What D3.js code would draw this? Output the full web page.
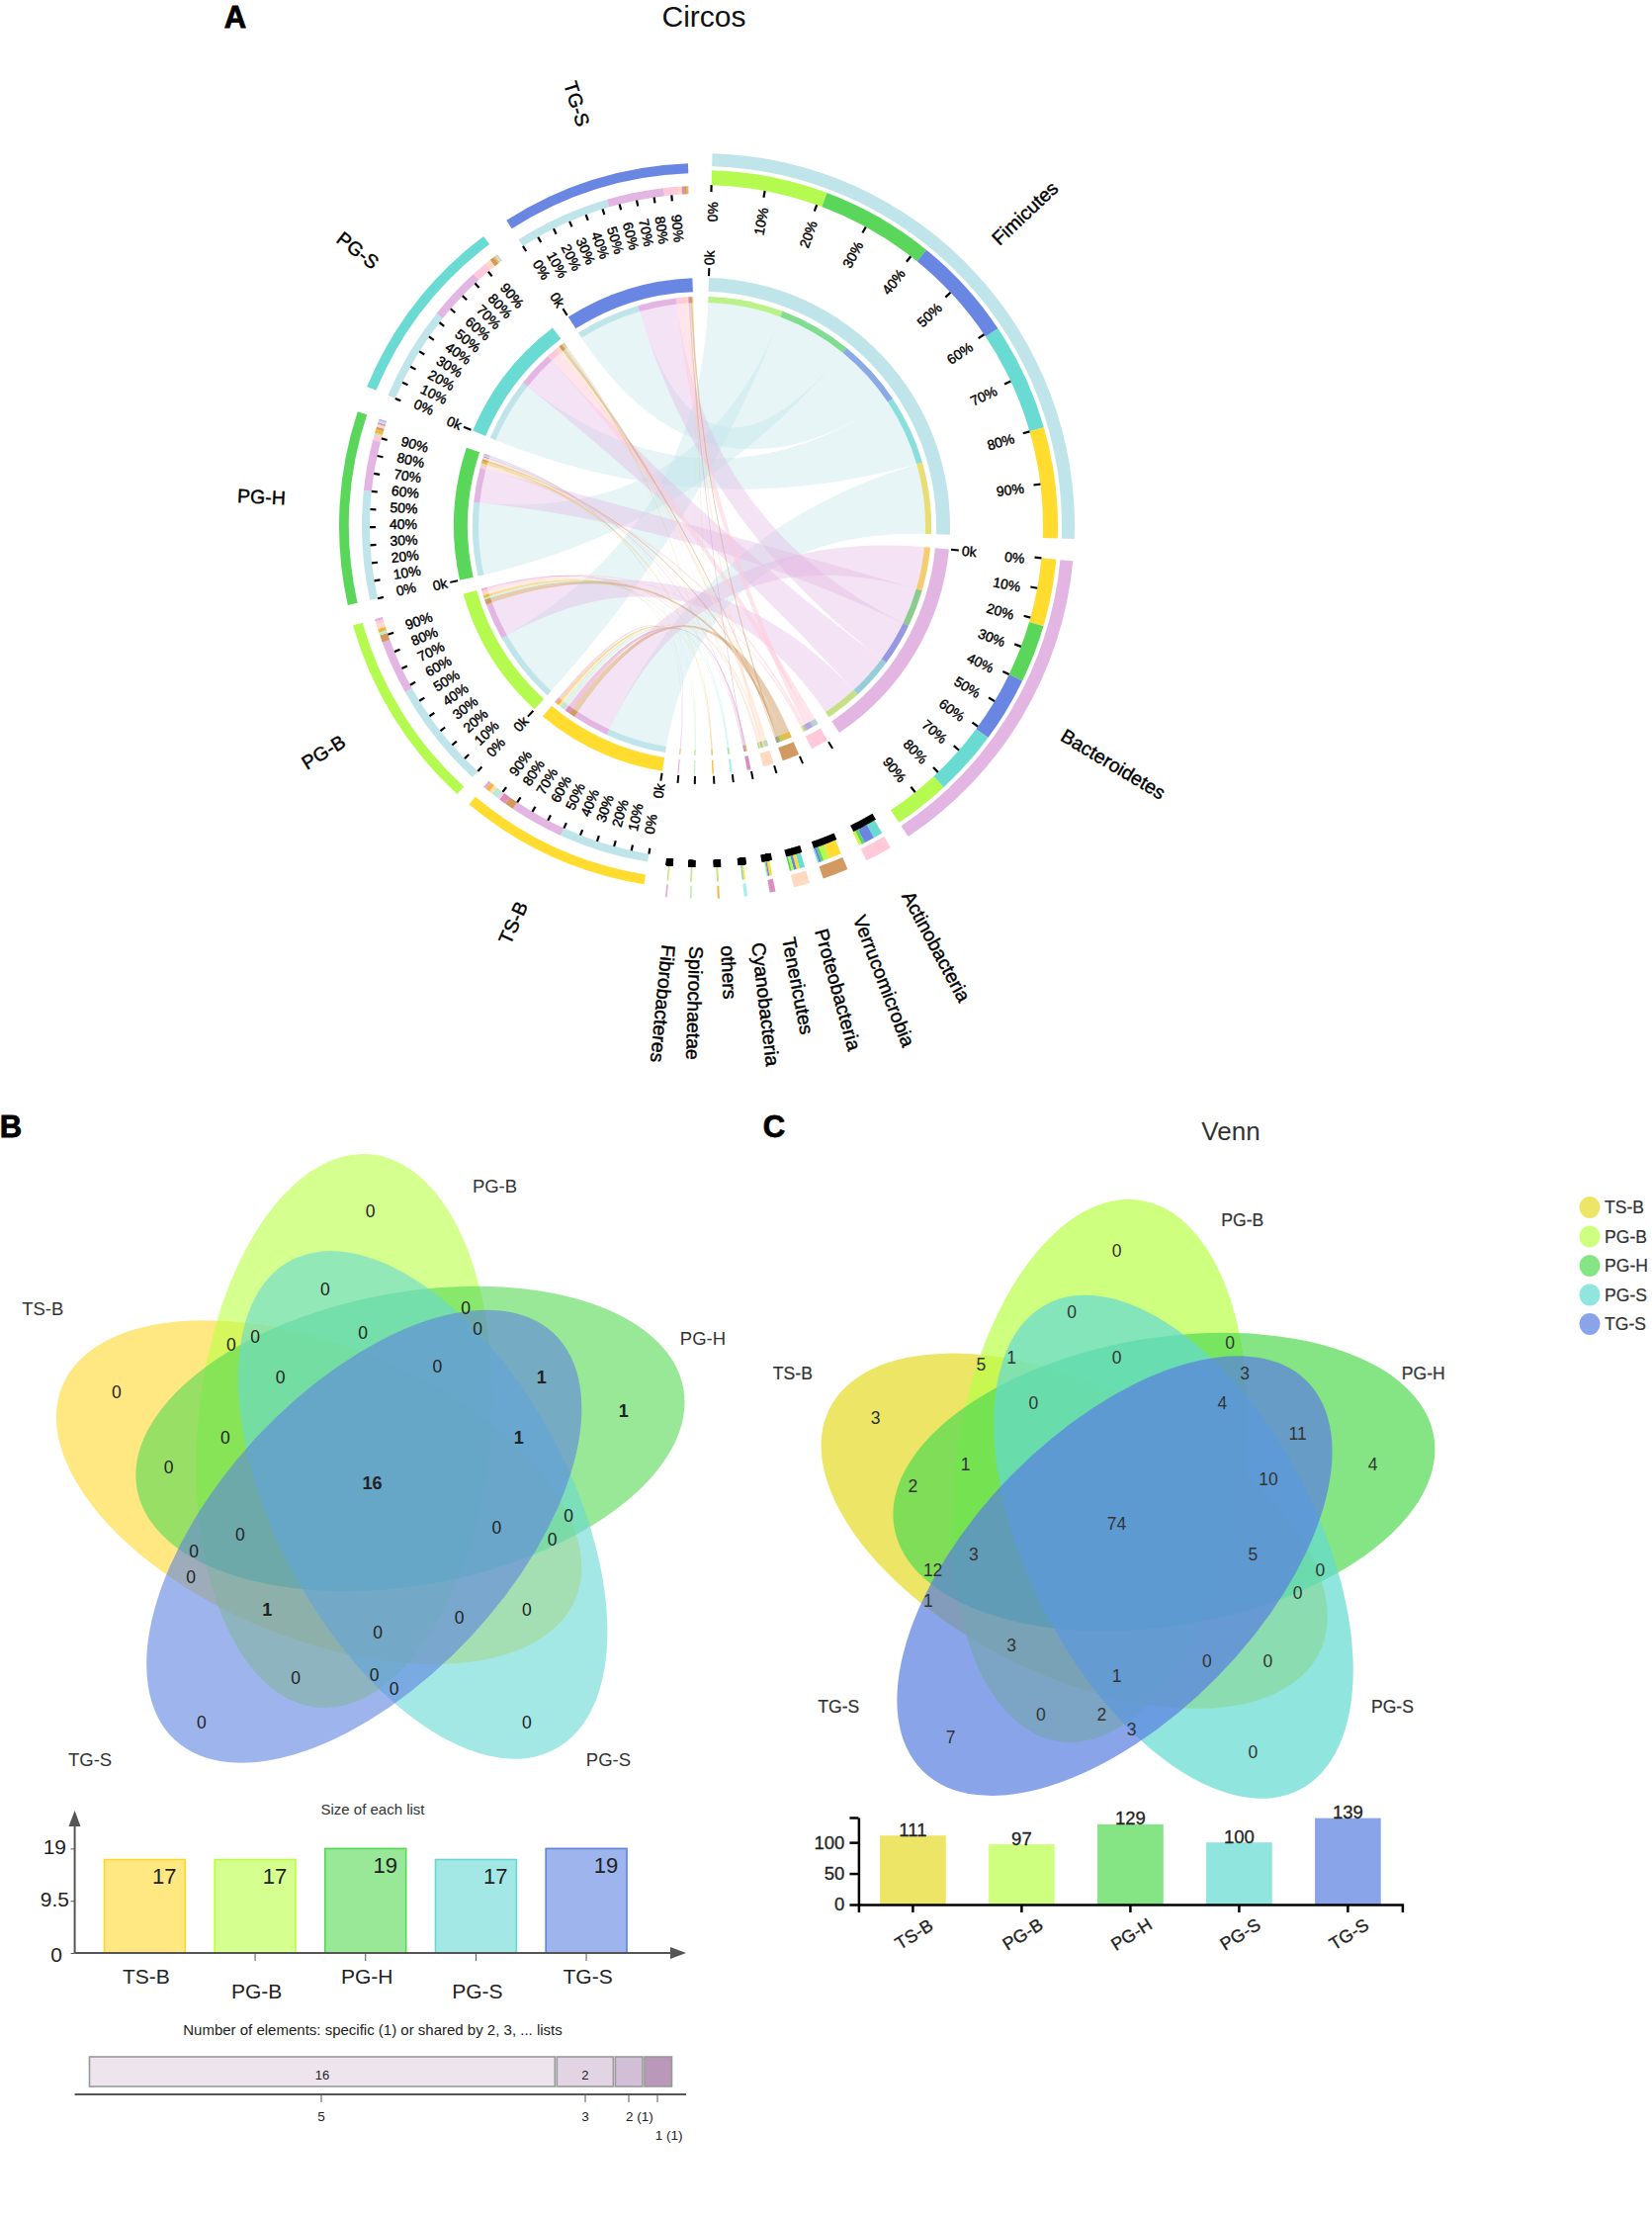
<!DOCTYPE html>
<html><head><meta charset="utf-8">
<script src="https://cdn.jsdelivr.net/npm/d3@7"></script>
<style>body{margin:0;background:#fff}svg{display:block}text{font-family:"Liberation Sans",Arial,sans-serif}</style>
</head><body><div id="c"></div>
<script>
// ---------- DATA ----------
const hosts = ['TS-B','PG-B','PG-H','PG-S','TG-S'];
const hostColors = ['#FFDC2E','#B5FA4E','#5AD75A','#6ADBD3','#6A86E3'];
const phyla = ['Fimicutes','Bacteroidetes','Actinobacteria','Verrucomicrobia','Proteobacteria','Tenericutes','Cyanobacteria','others','Spirochaetae','Fibrobacteres'];
const phylumColors = ['#BFE5EB','#E3B5E3','#FFC9D9','#D29A60','#FFD9C0','#DB8FBF','#A8EDE8','#F5B73A','#B8EDB8','#DDA8E3'];
const phylumTotals = [295.2,166.6,13.7,13.1,8.2,2.9,1.6,1,0.8,0.8];
const hostTotals = [100.4,103.5,101.2,99.3,99.3];
// share (%) of each phylum within a host, in the order stacked on that host
const hostOrder = [
  ['Fimicutes','Bacteroidetes','Verrucomicrobia','Tenericutes','Actinobacteria','Cyanobacteria','Spirochaetae','Proteobacteria','others','Fibrobacteres'],
  ['Fimicutes','Bacteroidetes','Verrucomicrobia','Spirochaetae','Cyanobacteria','others','Proteobacteria','Actinobacteria','Tenericutes','Fibrobacteres'],
  ['Fimicutes','Bacteroidetes','Actinobacteria','Spirochaetae','others','Verrucomicrobia','Proteobacteria','Tenericutes','Cyanobacteria','Fibrobacteres'],
  ['Fimicutes','Bacteroidetes','Actinobacteria','Proteobacteria','Verrucomicrobia','others','Spirochaetae','Cyanobacteria','Tenericutes','Fibrobacteres'],
  ['Fimicutes','Bacteroidetes','Actinobacteria','Proteobacteria','Tenericutes','Verrucomicrobia','others','Cyanobacteria','Spirochaetae','Fibrobacteres']
];
const hostShares = [
  [50,30,5,4,1.5,2,1.5,2,2.5,1.5],
  [58,29,4,1,0.5,2,2.5,2,0.5,0.5],
  [60,28,3,1,2,1.5,1.5,1,1,1],
  [53,30,9,3,2.5,1,0.5,0.5,0.3,0.2],
  [54,32,8,2,1.3,1.5,0.7,0.2,0.2,0.1]
];
// share (%) of each host within a phylum, in the order stacked on that phylum
const phylumOrder = [
  ['PG-B','PG-H','TG-S','PG-S','TS-B'],
  ['TS-B','PG-H','TG-S','PG-S','PG-B'],
  ['PG-S','TG-S','PG-H','PG-B','TS-B'],
  ['TS-B','PG-B','PG-H','TG-S','PG-S'],
  ['PG-S','TS-B','TG-S','PG-B','PG-H'],
  ['TS-B','TG-S','PG-H','PG-B','PG-S'],
  ['TS-B','PG-B','PG-H','TG-S','PG-S'],
  ['TS-B','PG-B','PG-H','PG-S','TG-S'],
  ['TS-B','PG-B','PG-H','PG-S','TG-S'],
  ['TS-B','PG-B','PG-H','PG-S','TG-S']
];
const phylumShares = [
  [21,20.5,19,19.5,20],
  [21.5,18.5,21,21,18],
  [36,40,13,7,4],
  [50,25,10,10,5],
  [35,20,18,15,12],
  [50,25,15,7,3],
  [40,25,15,15,5],
  [50,20,15,10,5],
  [40,25,15,10,10],
  [50,20,15,10,5]
];
const tickPercents = [0,10,20,30,40,50,60,70,80,90];

const vennNames = ['TS-B','PG-B','PG-H','PG-S','TG-S'];
const vennBValues = [0,0,0,0,0,0,0,0,0,1,1,1,0,0,0,16,0,0,0,0,0,0,1,0,0,0,0,0,0,0,0];
const vennCValues = [0,0,0,3,5,1,0,0,4,3,11,4,1,10,2,74,3,5,12,0,0,1,3,0,0,1,0,2,3,7,0];
const listSizes = [17,17,19,17,19];
const sharedCounts = [16,2,1,1];
const sharedLabels = ['5','3','2 (1)','1 (1)'];
const sharedInside = ['16','2','',''];
const sharedColors = ['#EEE4EE','#E2D4E2','#D2BED6','#B998B9'];
const cSizes = [111,97,129,100,139];

// ---------- LAYOUT ----------
const W=1671,H=2242;
const svg=d3.select('#c').append('svg').attr('width',W).attr('height',H).attr('viewBox',`0 0 ${W} ${H}`);
svg.append('rect').attr('width',W).attr('height',H).attr('fill','#fff');
const rad=d=>d*Math.PI/180;

function txt(g,x,y,s,size,o={}){
  return g.append('text').attr('x',x).attr('y',y).attr('dy','.35em').attr('text-anchor',o.anchor||'middle')
    .attr('font-size',size).attr('font-weight',o.weight||'normal').attr('fill',o.fill||'#222')
    .attr('stroke',o.stroke||'none').attr('stroke-width',o.sw||0).text(s);
}
txt(svg,238,17,'A',31,{weight:'bold',fill:'#000',stroke:'#000',sw:.8});
txt(svg,11,1139,'B',31,{weight:'bold',fill:'#000',stroke:'#000',sw:.8});
txt(svg,783,1139,'C',31,{weight:'bold',fill:'#000',stroke:'#000',sw:.8});
txt(svg,712,16,'Circos',30,{fill:'#111'});
txt(svg,1245,1144,'Venn',26,{fill:'#333'});

// ---------- CIRCOS ----------
const circos=svg.append('g').attr('transform','translate(710,532)');
const startDeg=1.6;
const sectorGaps=[3.4,3.2,3.2,2.2,2.9,3.5,3.8,4,3.55,3.55,2.5,3.3,4.2,4.4,3.8];
const allTotals=[...phylumTotals,...hostTotals];
const unitToDeg=d3.scaleLinear().domain([0,d3.sum(allTotals)]).range([0,360-d3.sum(sectorGaps)]);
let cur=startDeg;
const sectors=[...phyla.map((n,i)=>({name:n,color:phylumColors[i],total:phylumTotals[i],isHost:false,
    order:phylumOrder[i],shares:phylumShares[i],lookup:hostColors,names:hosts})),
  ...hosts.map((n,i)=>({name:n,color:hostColors[i],total:hostTotals[i],isHost:true,
    order:hostOrder[i],shares:hostShares[i],lookup:phylumColors,names:phyla}))];
sectors.forEach((s,i)=>{
  s.a0=cur; s.a1=cur+unitToDeg(s.total); cur=s.a1+sectorGaps[i];
  s.pos=d3.scaleLinear().domain([0,100]).range([s.a0,s.a1]);
  let acc=0; s.slots={};
  s.order.forEach((n,j)=>{s.slots[n]={from:acc,to:acc+s.shares[j],color:s.lookup[s.names.indexOf(n)]};acc+=s.shares[j];});
});
const arc=(r0,r1,a0,a1)=>d3.arc()({innerRadius:r0,outerRadius:r1,startAngle:rad(a0),endAngle:rad(a1)});
const R={inBand:[237,251],inStack:[226,232],ribbon:232};
const gArcs=circos.append('g'), gRib=circos.append('g'), gTicks=circos.append('g');

sectors.forEach(s=>{
  const out=s.isHost?[357,367]:[364,377], st=s.isHost?[336,344]:[345,360], tk=s.isHost?[330,336]:[338,345];
  gArcs.append('path').attr('d',arc(out[0],out[1],s.a0,s.a1)).attr('fill',s.color);
  gArcs.append('path').attr('d',arc(R.inBand[0],R.inBand[1],s.a0,s.a1)).attr('fill',s.color);
  Object.values(s.slots).forEach(v=>{
    gArcs.append('path').attr('d',arc(st[0],st[1],s.pos(v.from),s.pos(v.to))).attr('fill',v.color);
    gArcs.append('path').attr('d',arc(R.inStack[0],R.inStack[1],s.pos(v.from),s.pos(v.to))).attr('fill',v.color);
  });
  const sw=s.total<5?6:(s.total<20?3.2:2.2);
  tickPercents.forEach(p=>{
    const a=s.pos(p);
    gTicks.append('line').attr('transform',`rotate(${a-90})`).attr('x1',tk[0]).attr('x2',tk[1]).attr('stroke','#000').attr('stroke-width',sw);
    if(s.total>=50){
      const outward=a<188;
      const g=gTicks.append('g').attr('transform',`rotate(${a-90}) translate(${s.isHost?316:328},${s.isHost?3:2})${outward?'':' rotate(180)'}`);
      txt(g,0,0,p+'%',14,{anchor:outward?'end':'start',fill:'#000',stroke:'#000',sw:.4});
    }
  });
  const a=s.a0;
  gTicks.append('line').attr('transform',`rotate(${a-90})`).attr('x1',253).attr('x2',261).attr('stroke','#000').attr('stroke-width',2);
  if(s.total>=50){
    const outward=a<188;
    const g=gTicks.append('g').attr('transform',`rotate(${a-90}) translate(264,0)${outward?'':' rotate(180)'}`);
    txt(g,0,0,'0k',14,{anchor:outward?'start':'end',fill:'#000',stroke:'#000',sw:.4});
  }
  const m=(s.a0+s.a1)/2, outward=m<188;
  const labR=s.isHost?422:(s.name==='Fimicutes'?413:(s.name==='Bacteroidetes'?421:425));
  const g=gTicks.append('g').attr('transform',`rotate(${m-90}) translate(${labR},${outward?-7:7})${outward?'':' rotate(180)'}`);
  txt(g,0,0,s.name,19.5,{anchor:outward?'start':'end',fill:'#000',stroke:'#000',sw:.4});
});
const ribbon=d3.ribbon().radius(R.ribbon);
phyla.forEach((pn,pi)=>{
  const ps=sectors[pi];
  hosts.forEach((hn,hi)=>{
    const hs=sectors[phyla.length+hi];
    const a=ps.slots[hn], b=hs.slots[pn];
    gRib.append('path').attr('d',ribbon({
      source:{startAngle:rad(ps.pos(a.from)),endAngle:rad(ps.pos(a.to))},
      target:{startAngle:rad(hs.pos(b.from)),endAngle:rad(hs.pos(b.to))}
    })).attr('fill',phylumColors[pi]).attr('fill-opacity',pi<2?.38:.5);
  });
});

// ---------- VENN ----------
function venn(cx,cy,sc,turns,tilts,shifts,colors,op){
  const g=svg.append('g').attr('transform',`translate(${cx},${cy}) scale(${sc})`);
  vennNames.forEach((n,i)=>g.append('ellipse').attr('rx',148).attr('ry',281)
    .attr('transform',`rotate(${turns[i]}) translate(-28,${-50+shifts[i]}) rotate(${tilts[i]})`).attr('fill',colors[i]).attr('fill-opacity',op));
}
const vennColB=['#FFD82F','#B9FF43','#53D853','#67D8D4','#5D82DF'];
const vennColC=['#E4DA24','#BAFF48','#51DA51','#63DAD1','#597EE1'];
venn(376,1497,1,[288,0,72,145,217],[4.5,5.5,7.5,6.5,6],[3,0,0,0,0],vennColB,.6);
venn(1137,1538,.985,[291,3,75,147,219],[5.5,5.5,5.5,5.5,5.5],[6,0,0,0,0],vennColC,.7);

const bX=c=>c/2.01, bY=c=>1100+c/2.178, cX=c=>760+c/1.721, cY=c=>1100+c/2.063;
const spotsB=[[753,273],[661,445],[947,485],[971,532],[738,539],[519,548],[470,565],[570,637],[889,614],[1101,637],[1268,711],[1055,770],[237,670],[458,770],[343,836],[757,870],[1156,942],[1123,995],[1010,968],[488,985],[394,1021],[388,1078],[543,1150],[1071,1150],[934,1167],[768,1200],[601,1299],[761,1293],[801,1323],[410,1398],[1071,1398]];
vennBValues.forEach((v,i)=>txt(svg,bX(spotsB[i][0]),bY(spotsB[i][1]),v,v>0?18:17.5,{weight:v>0?'bold':'normal',fill:'#222'}));
const nameSpotsB=[[87,487],[1006,216],[1429,553],[1237,1480],[183,1480]];
vennNames.forEach((n,i)=>txt(svg,bX(nameSpotsB[i][0]),bY(nameSpotsB[i][1]),n,18.5,{fill:'#333'}));

const spotsC=[[636,341],[558,468],[833,531],[859,595],[400,578],[453,563],[636,563],[491,657],[820,657],[216,689],[951,721],[1082,785],[373,785],[900,816],[281,832],[636,910],[387,974],[873,974],[316,1006],[990,1006],[951,1053],[308,1070],[453,1164],[793,1197],[899,1197],[636,1228],[504,1307],[610,1307],[662,1339],[347,1355],[873,1386]];
vennCValues.forEach((v,i)=>txt(svg,cX(spotsC[i][0]),cY(spotsC[i][1]),v,17.5,{fill:'#333'}));
const nameSpotsC=[[72,595],[855,277],[1170,595],[1116,1292],[152,1292]];
vennNames.forEach((n,i)=>txt(svg,cX(nameSpotsC[i][0]),cY(nameSpotsC[i][1]),n,17.6,{fill:'#333',stroke:'#333',sw:.2}));

// legend
vennNames.forEach((n,i)=>{
  const y=1221+i*29.5;
  svg.append('ellipse').attr('cx',1608).attr('cy',y).attr('rx',10.5).attr('ry',11).attr('fill',vennColC[i]).attr('fill-opacity',.7);
  txt(svg,1623,y,n,17.6,{anchor:'start',fill:'#333',stroke:'#333',sw:.2});
});

// ---------- B: size of each list ----------
const gray='#555', baseB=1975;
txt(svg,377,1829.5,'Size of each list',15,{fill:'#333'});
const bxScale=d3.scaleBand().domain(vennNames).range([105.5,634]).paddingInner(.267);
const byScale=d3.scaleLinear().domain([0,19]).range([baseB,baseB-105.6]);
vennNames.forEach((n,i)=>{
  const x=bxScale(n),w=bxScale.bandwidth(),y=byScale(listSizes[i]);
  svg.append('rect').attr('x',x).attr('y',y).attr('width',w).attr('height',baseB-y).attr('fill',vennColB[i]).attr('fill-opacity',.6).attr('stroke',vennColB[i]).attr('stroke-width',1.6);
  txt(svg,x+w-21,y+16.5,listSizes[i],22,{fill:'#222'});
  if(i>0) svg.append('line').attr('x1',x+w/2).attr('x2',x+w/2).attr('y1',baseB+1).attr('y2',baseB+8).attr('stroke',gray).attr('stroke-width',1);
  txt(svg,x+w/2+1.5,i%2?2014:1999,n,21,{fill:'#222'});
});
const yAxB=svg.append('g').attr('transform','translate(75.6,0)').call(d3.axisLeft(byScale).tickValues([0,9.5,19]).tickSize(4).tickFormat(''));
yAxB.select('.domain').remove(); yAxB.selectAll('line').attr('stroke',gray);
[0,9.5,19].forEach(v=>txt(svg,v===9.5?70:(v===0?63:67),byScale(v)-(v===0?-1:1)*2,v,21,{anchor:'end',fill:'#222'}));
svg.append('line').attr('x1',75.6).attr('x2',75.6).attr('y1',baseB).attr('y2',1845).attr('stroke',gray).attr('stroke-width',2);
svg.append('line').attr('x1',75.6).attr('x2',682).attr('y1',baseB).attr('y2',baseB).attr('stroke',gray).attr('stroke-width',2.2);
svg.append('path').attr('d','M75.6,1831 L69.5,1847 L81.5,1847 Z').attr('fill',gray);
svg.append('path').attr('d',`M694,${baseB} L678,${baseB-6} L678,${baseB+6} Z`).attr('fill',gray);

// ---------- B: shared counts ----------
txt(svg,377,2053,'Number of elements: specific (1) or shared by 2, 3, ... lists',15,{fill:'#222'});
const unit=d3.scaleLinear().domain([0,d3.sum(sharedCounts)]).range([0,591]);
let sx=90.5;
const tickXs=[325,592,636,665];
sharedCounts.forEach((c,i)=>{
  const w=unit(c);
  svg.append('rect').attr('x',sx).attr('y',2080).attr('width',w-2).attr('height',30).attr('fill',sharedColors[i]).attr('stroke','#999').attr('stroke-width',1.6);
  if(sharedInside[i]) txt(svg,sx+w/2-1,2098,sharedInside[i],13,{fill:'#222'});
  sx+=w;
  svg.append('line').attr('x1',tickXs[i]).attr('x2',tickXs[i]).attr('y1',2118).attr('y2',2126).attr('stroke',gray).attr('stroke-width',1);
  if(i<3) txt(svg,i===2?647:tickXs[i],2140,sharedLabels[i],13.5,{fill:'#222'});
  else txt(svg,676.6,2159,sharedLabels[i],13.5,{fill:'#222'});
});
svg.append('line').attr('x1',75.6).attr('x2',694).attr('y1',2118).attr('y2',2118).attr('stroke',gray).attr('stroke-width',2);

// ---------- C: bars ----------
const cxScale=d3.scaleBand().domain(vennNames).range([868.4,1418.4]).paddingInner(.394).paddingOuter(.197);
const cyScale=d3.scaleLinear().domain([0,140]).range([1926,1838]);
vennNames.forEach((n,i)=>{
  const x=cxScale(n),w=cxScale.bandwidth(),y=cyScale(cSizes[i]);
  svg.append('rect').attr('x',x).attr('y',y).attr('width',w).attr('height',1926-y).attr('fill',vennColC[i]).attr('fill-opacity',.7);
  txt(svg,x+w/2,y-6,cSizes[i],18.5,{fill:'#222',stroke:'#222',sw:.3});
});
const gy=svg.append('g').attr('transform','translate(868.4,0)').call(d3.axisLeft(cyScale).tickValues([0,50,100,140]).tickSize(9).tickSizeOuter(0).tickFormat(d=>d===140?'':d));
gy.selectAll('text').attr('font-size',18.5).attr('font-family','Liberation Sans').attr('fill','#222').attr('stroke','#222').attr('stroke-width',.3).attr('x',-14);
gy.selectAll('line,path').attr('stroke','#000').attr('stroke-width',2.5);
const gx=svg.append('g').attr('transform','translate(0,1926)').call(d3.axisBottom(cxScale).tickSize(8));
gx.selectAll('line,path').attr('stroke','#000').attr('stroke-width',2.5);
gx.selectAll('text').attr('font-size',18).attr('font-family','Liberation Sans').attr('fill','#222').attr('stroke','#222').attr('stroke-width',.3)
  .attr('text-anchor','middle').attr('y',0).attr('dy','.35em').attr('transform','translate(1,30) rotate(-32)');
</script></body></html>
